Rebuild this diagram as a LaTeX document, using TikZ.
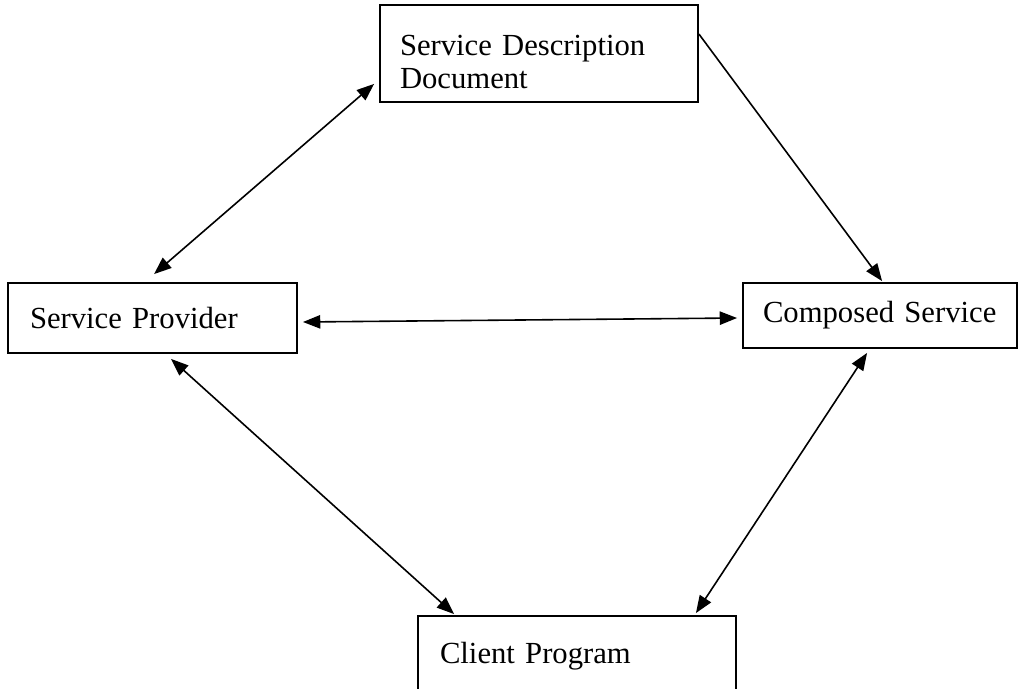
\documentclass[tikz,border=0pt]{standalone}
\usepackage{fontspec}
\setmainfont{Liberation Serif}
\usetikzlibrary{arrows.meta,calc}
\begin{document}
\begin{tikzpicture}[x=0.75pt,y=0.75pt,
  box/.style={draw,line width=1.4pt,rectangle,align=left,
    font=\fontsize{23}{25}\selectfont,inner ysep=0pt},
  link/.style={line width=1.2pt,{Triangle[length=13pt,width=10pt]}-{Triangle[length=13pt,width=10pt]}},
  onelink/.style={line width=1.2pt,-{Triangle[length=13pt,width=10pt]}}]
\useasboundingbox (0,0) rectangle (1019,-688);

\node[box,minimum width=238.5pt,minimum height=72.75pt,inner xsep=15pt,
  text width=208.5pt] (sdd) at (539,-53.5) {\rule{0pt}{28pt}Service Description\\Document};
\node[box,minimum width=216.75pt,minimum height=52.5pt,inner xsep=16.5pt,
  text width=183.75pt] (sp) at (152.5,-318) {Service Provider};
\node[box,minimum width=205.5pt,minimum height=48.75pt,inner xsep=15pt,
  text width=175.5pt] (cs) at (880,-315.5) {Composed Service};
\node[box,minimum width=238.5pt,minimum height=60pt,inner xsep=16.5pt,
  text width=205.5pt] (cp) at (577,-656) {Client Program};

\draw[link] ($(sdd.south west)+(-5,19)$) -- ($(sp.north west)+(147,8)$);
\draw[onelink] ($(sdd.north east)+(0,-30)$) -- ($(cs.north west)+(140,1)$);
\draw[link] ($(sp.east)+(5,-4)$) -- ($(cs.west)+(-5,-2.5)$);
\draw[link] ($(sp.south west)+(164,-5)$) -- ($(cp.north west)+(37,1)$);
\draw[link] ($(cs.south west)+(125,-4)$) -- ($(cp.north east)+(-41,2)$);
\end{tikzpicture}
\end{document}
